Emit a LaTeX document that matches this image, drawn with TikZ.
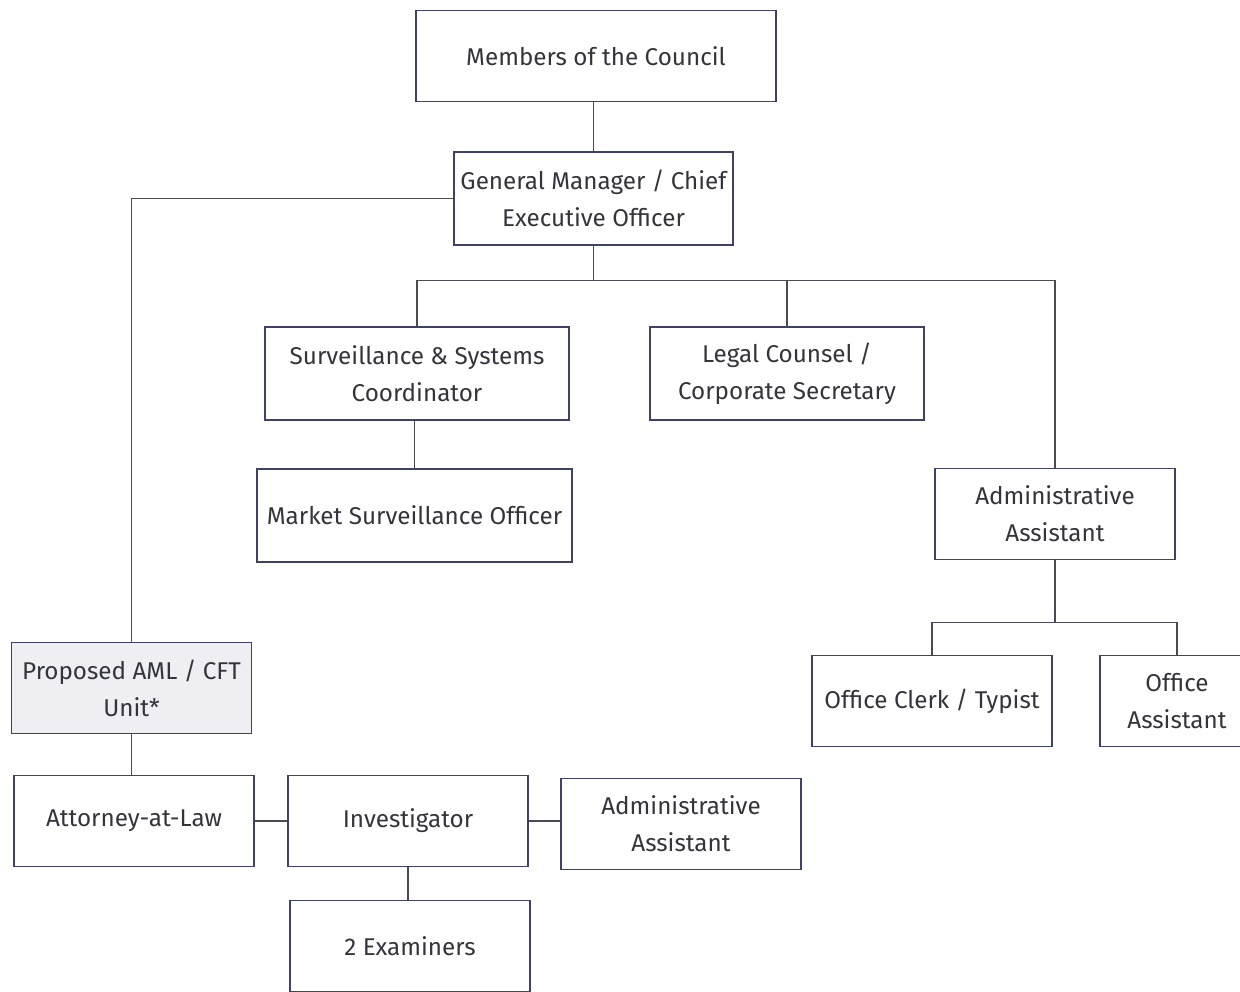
\documentclass[tikz,border=0pt]{standalone}
\usepackage{fontspec}
\setmainfont{Fira Sans}
\usetikzlibrary{positioning,calc}
\definecolor{boxline}{HTML}{3E4168}
\definecolor{linkline}{HTML}{4A4A55}
\definecolor{txt}{HTML}{34343C}
\definecolor{unitfill}{HTML}{EEEEF3}

\begin{document}
\begin{tikzpicture}[x=0.02cm, y=-0.02cm, font=\fontsize{13.8}{21}\selectfont,
    unit/.style={draw=boxline, line width=0.9pt, text=txt, align=center,
      minimum width=4.8cm, minimum height=1.82cm, inner sep=1pt},
    link/.style={draw=linkline, line width=0.7pt}]
    \useasboundingbox (0,0) rectangle (1240,991);
    % top of the chart
    \node[unit, minimum width=7.2cm] (council) at (596,56) {Members of the Council};%
    \node[unit, minimum width=5.58cm, minimum height=1.86cm] (gm) at (593.5,198.5)
    {General Manager / Chief\\Executive Officer};%
    % second row
    \node[unit, minimum width=6.08cm, minimum height=1.86cm] (surv) at (417,373.5)
    {Surveillance \& Systems\\Coordinator};%
    \node[unit, minimum width=5.48cm, minimum height=1.86cm] (legal) at (787,373.5)
    {Legal Counsel /\\Corporate Secretary};%
    \node[unit, minimum width=6.3cm, minimum height=1.86cm] (mso) at (414.5,515.5)
    {Market Surveillance Officer};%
    \node[unit] (admin) at (1055,514) {Administrative\\Assistant};%
    \node[unit] (clerk) at (932,701) {Office Clerk / Typist};%
    \node[unit, minimum width=3.08cm] (offasst) at (1177,701) {Office\\Assistant};%
    % AML / CFT unit
    \node[unit, fill=unitfill] (aml) at (131.5,688) {Proposed AML / CFT\\Unit*};%
    \node[unit] (attorney) at (134,821) {Attorney-at-Law};%
    \node[unit] (invest) at (408,821) {Investigator};%
    \node[unit] (admintwo) at (681,824) {Administrative\\Assistant};%
    \node[unit] (exam) at (410,946) {2 Examiners};%
    \coordinate (bus) at ($(gm.south)+(0,35)$);
    \coordinate (adminbus) at ($(admin.south)+(0,62)$);
    \draw[link] (gm.north) -- (gm.north |- council.south);
    \draw[link] (gm.west) -| (aml.north);
    \draw[link] (gm.south) -- (bus);
    \draw[link] (bus) -| (surv.north);
    \draw[link] (bus) -| (legal.north);
    \draw[link] (bus) -| (admin.north);
    \draw[link] (mso.north) -- (mso.north |- surv.south);
    \draw[link] (admin) -- (adminbus);
    \draw[link] (adminbus) -| (clerk.north);
    \draw[link] (adminbus) -| (offasst.north);
    \draw[link] (aml.south) -- (aml.south |- attorney.north);
    \draw[link] (attorney) -- (invest);
    \draw[link] (invest.east) -- (admintwo.west |- invest.east);
    \draw[link] (invest) -- (invest |- exam.north);
  \end{tikzpicture}
\end{document}
